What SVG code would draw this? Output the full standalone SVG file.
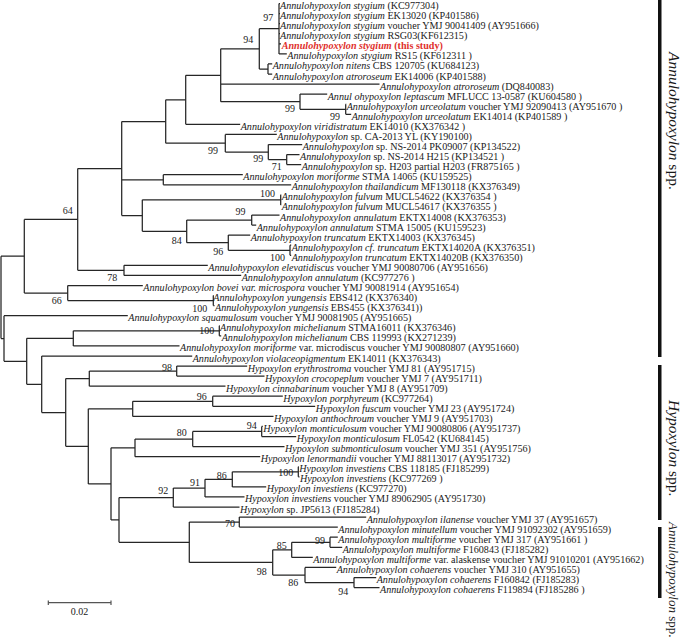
<svg xmlns="http://www.w3.org/2000/svg" width="685" height="638" viewBox="0 0 685 638">
<style>
text{font-family:"Liberation Serif","Times New Roman",serif;fill:#1a1a1a}
.lf{font-size:10.15px}
.i{font-style:italic}
.bs{font-size:10px}
.red{fill:#e0302c;font-weight:bold}
.br{fill:none;stroke:#262626;stroke-width:1.25}
.grp{font-size:15.5px}
</style>
<rect width="685" height="638" fill="#ffffff"/>
<g id="connectors" class="br">
<path d="M1,256.2V338.5M1,256.2H24.3M1,338.5H4"/>
<path d="M24.3,219.45V293M24.3,219.45H77.7M24.3,293H67.7"/>
<path d="M77.7,168.55V270.35M77.7,168.55H121.7M77.7,270.35H124"/>
<path d="M121.7,121.5V215.6M121.7,121.5H165.7M121.7,179.75H163.3M121.7,215.6H142.3"/>
<path d="M165.7,99.8V143.2M165.7,99.8H185.7M165.7,143.2H225.3"/>
<path d="M185.7,75.3V124.3M185.7,75.3H220.7M185.7,124.3H240.2"/>
<path d="M220.7,48.85V101.7M220.7,48.85H259.3M220.7,101.7H300M220.7,84.1H379.5"/>
<path d="M259.3,28.7V69M259.3,28.7H279M259.3,69H268"/>
<path d="M279,3.5V53.9M279,3.5H280M279,13.6H280M279,23.6H280M279,33.7H280M279,43.8H281M279,53.9H286.8"/>
<path d="M268,63.9V74M268,63.9H272.2M268,74H272.2"/>
<path d="M300,94.1V109.25M300,94.1H327.2M300,109.25H345.7"/>
<path d="M345.7,104.2V114.3M345.7,104.2H346.2M345.7,114.3H351.2"/>
<path d="M225.3,134.4V152.05M225.3,134.4H276.8M225.3,152.05H268.3"/>
<path d="M268.3,144.5V159.6M268.3,144.5H302.2M268.3,159.6H286.7"/>
<path d="M286.7,154.6V164.6M286.7,154.6H299.5M286.7,164.6H301.2"/>
<path d="M163.3,174.7V184.8M163.3,174.7H242.8M163.3,184.8H291.2"/>
<path d="M142.3,199.85V231.35M142.3,199.85H280.7M142.3,231.35H186.7"/>
<path d="M280.7,194.8V204.9M280.7,194.8H281.2M280.7,204.9H281.2"/>
<path d="M186.7,220V242.7M186.7,220H251.7M186.7,242.7H228.3"/>
<path d="M251.7,215V225M251.7,215H279.5M251.7,225H256.2"/>
<path d="M228.3,235.1V250.25M228.3,235.1H250.2M228.3,250.25H290"/>
<path d="M290,245.2V255.3M290,245.2H291.2M290,255.3H291.2"/>
<path d="M124,265.3V275.4M124,265.3H207.8M124,275.4H241.2"/>
<path d="M67.7,285.5V300.55M67.7,285.5H142.8M67.7,300.55H213.3"/>
<path d="M213.3,295.5V305.6M213.3,295.5H213.8M213.3,305.6H214.5"/>
<path d="M4,315.7V361.3M4,315.7H127.8M4,361.3H26.7"/>
<path d="M26.7,338.3V384.25M26.7,338.3H73.3M26.7,384.25H41.7"/>
<path d="M73.3,330.75V345.9M73.3,330.75H219.3M73.3,345.9H179.5"/>
<path d="M219.3,325.7V335.8M219.3,325.7H219.8M219.3,335.8H221.2"/>
<path d="M41.7,356V412.5M41.7,356H192.2M41.7,412.5H65.7"/>
<path d="M65.7,378.6V446.35M65.7,378.6H89.3M65.7,446.35H88.3"/>
<path d="M89.3,371.05V386.2M89.3,371.05H176.7M89.3,386.2H225.5"/>
<path d="M176.7,366V376.1M176.7,366H247.2M176.7,376.1H264.5"/>
<path d="M88.3,408.8V483.9M88.3,408.8H132.7M88.3,483.9H111"/>
<path d="M132.7,401.25V416.4M132.7,401.25H212.7M132.7,416.4H273.5"/>
<path d="M212.7,396.2V406.3M212.7,396.2H282.8M212.7,406.3H315.2"/>
<path d="M111,447.85V519.9M111,447.85H135M111,519.9H119"/>
<path d="M135,439V456.7M135,439H192.7M135,456.7H260.2"/>
<path d="M192.7,431.45V446.6M192.7,431.45H261.7M192.7,446.6H284.5"/>
<path d="M261.7,426.4V436.5M261.7,426.4H262.8M261.7,436.5H296.2"/>
<path d="M119,497.55V542.25M119,497.55H173.3M119,542.25H189.3"/>
<path d="M173.3,488.1V507M173.3,488.1H205M173.3,507H239.5"/>
<path d="M205,479.3V496.9M205,479.3H232.3M205,496.9H244.5"/>
<path d="M232.3,471.75V486.9M232.3,471.75H298.3M232.3,486.9H266.2"/>
<path d="M298.3,466.7V476.8M298.3,466.7H298.8M298.3,476.8H299.5"/>
<path d="M189.3,522.1V562.4M189.3,522.1H239.3M189.3,562.4H272.7"/>
<path d="M239.3,517.1V527.1M239.3,517.1H366.2M239.3,527.1H337.8"/>
<path d="M272.7,549.8V575M272.7,549.8H291.7M272.7,575H305"/>
<path d="M291.7,542.25V557.4M291.7,542.25H330M291.7,557.4H312.8"/>
<path d="M330,537.2V547.3M330,537.2H337.8M330,547.3H342.2"/>
<path d="M305,567.4V582.55M305,567.4H336.2M305,582.55H354"/>
<path d="M354,577.5V587.6M354,577.5H376.2M354,587.6H379.5"/>
</g>
<g id="support" class="bs">
<text x="263.3" y="20.5">97</text>
<text x="243.3" y="42.5">94</text>
<text x="285" y="111.8">99</text>
<text x="330" y="120.2">99</text>
<text x="208" y="153.5">99</text>
<text x="253.3" y="161.8">99</text>
<text x="271.7" y="169.5">71</text>
<text x="260" y="196.8">100</text>
<text x="235.5" y="215">99</text>
<text x="171.7" y="243.5">84</text>
<text x="213.3" y="254.5">96</text>
<text x="270" y="260.8">100</text>
<text x="62.7" y="214">64</text>
<text x="107.3" y="280.8">78</text>
<text x="51.7" y="304">66</text>
<text x="192.3" y="311.8">100</text>
<text x="199.3" y="333.5">100</text>
<text x="162" y="370.8">98</text>
<text x="196.7" y="400">96</text>
<text x="246.7" y="428.5">94</text>
<text x="176.7" y="435.8">80</text>
<text x="216.7" y="478.5">86</text>
<text x="278.3" y="476.2">100</text>
<text x="190" y="485.8">91</text>
<text x="158.3" y="493.5">92</text>
<text x="225" y="526.8">70</text>
<text x="276.7" y="549.2">85</text>
<text x="315" y="543.5">99</text>
<text x="256.7" y="575.2">98</text>
<text x="288.3" y="585.8">86</text>
<text x="338.3" y="595.2">94</text>
</g>
<g class="lf">
<g id="n0"><text x="280" y="9"><tspan class="i">Annulohypoxylon stygium</tspan> (KC977304)</text></g>
<g id="n1"><text x="280" y="19.1"><tspan class="i">Annulohypoxylon stygium</tspan> EK13020 (KP401586)</text></g>
<g id="n2"><text x="280" y="29.1"><tspan class="i">Annulohypoxylon stygium</tspan> voucher YMJ 90041409 (AY951666)</text></g>
<g id="n3"><text x="280" y="39.2"><tspan class="i">Annulohypoxylon stygium</tspan> RSG03(KF612315)</text></g>
<g id="n4"><text x="281.7" y="49.3" class="red"><tspan class="i">Annulohypoxylon stygium</tspan> (this study)</text></g>
<g id="n5"><text x="287.3" y="59.4"><tspan class="i">Annulohypoxylon stygium</tspan> RS15 (KF612311 )</text></g>
<g id="n6"><text x="272.7" y="69.4"><tspan class="i">Annulohypoxylon nitens</tspan> CBS 120705 (KU684123)</text></g>
<g id="n7"><text x="272.7" y="79.5"><tspan class="i">Annulohypoxylon atroroseum</tspan> EK14006  (KP401588)</text></g>
<g id="n8"><text x="380" y="89.6"><tspan class="i">Annulohypoxylon atroroseum</tspan>  (DQ840083)</text></g>
<g id="n9"><text x="327.7" y="99.6"><tspan class="i">Annul ohypoxylon leptascum</tspan> MFLUCC 13-0587 (KU604580 )</text></g>
<g id="n10"><text x="346.7" y="109.7"><tspan class="i">Annulohypoxylon urceolatum</tspan> voucher YMJ 92090413 (AY951670 )</text></g>
<g id="n11"><text x="351.7" y="119.8"><tspan class="i">Annulohypoxylon urceolatum</tspan> EK14014 (KP401589 )</text></g>
<g id="n12"><text x="240.7" y="129.8"><tspan class="i">Annulohypoxylon viridistratum</tspan> EK14010 (KX376342 )</text></g>
<g id="n13"><text x="277.3" y="139.9"><tspan class="i">Annulohypoxylon</tspan> sp. CA-2013 YL (KY190100)</text></g>
<g id="n14"><text x="302.7" y="150"><tspan class="i">Annulohypoxylon</tspan> sp. NS-2014 PK09007 (KP134522)</text></g>
<g id="n15"><text x="300" y="160.1"><tspan class="i">Annulohypoxylon</tspan> sp. NS-2014 H215 (KP134521 )</text></g>
<g id="n16"><text x="301.7" y="170.1"><tspan class="i">Annulohypoxylon</tspan> sp. H203 partial H203 (FR875165 )</text></g>
<g id="n17"><text x="243.3" y="180.2"><tspan class="i">Annulohypoxylon moriforme</tspan> STMA 14065 (KU159525)</text></g>
<g id="n18"><text x="291.7" y="190.3"><tspan class="i">Annulohypoxylon thailandicum</tspan> MF130118 (KX376349)</text></g>
<g id="n19"><text x="281.7" y="200.3"><tspan class="i">Annulohypoxylon fulvum</tspan> MUCL54622 (KX376354 )</text></g>
<g id="n20"><text x="281.7" y="210.4"><tspan class="i">Annulohypoxylon fulvum</tspan> MUCL54617 (KX376355 )</text></g>
<g id="n21"><text x="280" y="220.5"><tspan class="i">Annulohypoxylon annulatum</tspan> EKTX14008 (KX376353)</text></g>
<g id="n22"><text x="256.7" y="230.5"><tspan class="i">Annulohypoxylon annulatum</tspan> STMA 15005 (KU159523)</text></g>
<g id="n23"><text x="250.7" y="240.6"><tspan class="i">Annulohypoxylon truncatum</tspan> EKTX14003 (KX376345)</text></g>
<g id="n24"><text x="291.7" y="250.7"><tspan class="i">Annulohypoxylon cf. truncatum</tspan> EKTX14020A (KX376351)</text></g>
<g id="n25"><text x="291.7" y="260.8"><tspan class="i">Annulohypoxylon truncatum</tspan> EKTX14020B (KX376350)</text></g>
<g id="n26"><text x="208.3" y="270.8"><tspan class="i">Annulohypoxylon elevatidiscus</tspan> voucher YMJ 90080706 (AY951656)</text></g>
<g id="n27"><text x="241.7" y="280.9"><tspan class="i">Annulohypoxylon annulatum</tspan> (KC977276 )</text></g>
<g id="n28"><text x="143.3" y="291"><tspan class="i">Annulohypoxylon bovei var. microspora</tspan> voucher YMJ 90081914 (AY951654)</text></g>
<g id="n29"><text x="213.3" y="301"><tspan class="i">Annulohypoxylon yungensis</tspan> EBS412 (KX376340)</text></g>
<g id="n30"><text x="215" y="311.1"><tspan class="i">Annulohypoxylon yungensis</tspan> EBS455 (KX376341))</text></g>
<g id="n31"><text x="128.3" y="321.2"><tspan class="i">Annulohypoxylon squamulosum</tspan> voucher YMJ 90081905 (AY951665)</text></g>
<g id="n32"><text x="220" y="331.2"><tspan class="i">Annulohypoxylon michelianum</tspan> STMA16011 (KX376346)</text></g>
<g id="n33"><text x="221.7" y="341.3"><tspan class="i">Annulohypoxylon michelianum</tspan> CBS 119993 (KX271239)</text></g>
<g id="n34"><text x="180" y="351.4"><tspan class="i">Annulohypoxylon moriforme</tspan> var. microdiscus voucher YMJ 90080807 (AY951660)</text></g>
<g id="n35"><text x="192.7" y="361.5"><tspan class="i">Annulohypoxylon violaceopigmentum</tspan> EK14011 (KX376343)</text></g>
<g id="n36"><text x="247.7" y="371.5"><tspan class="i">Hypoxylon erythrostroma</tspan> voucher YMJ 81 (AY951715)</text></g>
<g id="n37"><text x="265" y="381.6"><tspan class="i">Hypoxylon crocopeplum</tspan> voucher YMJ 7 (AY951711)</text></g>
<g id="n38"><text x="226" y="391.7"><tspan class="i">Hypoxylon cinnabarinum</tspan> voucher YMJ 8 (AY951709)</text></g>
<g id="n39"><text x="283.3" y="401.7"><tspan class="i">Hypoxylon porphyreum</tspan> (KC977264)</text></g>
<g id="n40"><text x="315.7" y="411.8"><tspan class="i">Hypoxylon fuscum</tspan> voucher YMJ 23 (AY951724)</text></g>
<g id="n41"><text x="274" y="421.9"><tspan class="i">Hypoxylon anthochroum</tspan> voucher YMJ 9 (AY951703)</text></g>
<g id="n42"><text x="263.3" y="431.9"><tspan class="i">Hypoxylon monticulosum</tspan> voucher YMJ 90080806 (AY951737)</text></g>
<g id="n43"><text x="296.7" y="442"><tspan class="i">Hypoxylon monticulosum</tspan> FL0542 (KU684145)</text></g>
<g id="n44"><text x="285" y="452.1"><tspan class="i">Hypoxylon submonticulosum</tspan> voucher YMJ 351 (AY951756)</text></g>
<g id="n45"><text x="260.7" y="462.2"><tspan class="i">Hypoxylon lenormandii</tspan> voucher YMJ 88113017 (AY951732)</text></g>
<g id="n46"><text x="299.3" y="472.2"><tspan class="i">Hypoxylon investiens</tspan> CBS 118185 (FJ185299)</text></g>
<g id="n47"><text x="300" y="482.3"><tspan class="i">Hypoxylon investiens</tspan> (KC977269 )</text></g>
<g id="n48"><text x="266.7" y="492.4"><tspan class="i">Hypoxylon investiens</tspan> (KC977270)</text></g>
<g id="n49"><text x="245" y="502.4"><tspan class="i">Hypoxylon investiens</tspan> voucher YMJ 89062905 (AY951730)</text></g>
<g id="n50"><text x="240" y="512.5"><tspan class="i">Hypoxylon</tspan> sp. JP5613 (FJ185284)</text></g>
<g id="n51"><text x="366.7" y="522.6"><tspan class="i">Annulohypoxylon ilanense</tspan> voucher YMJ 37 (AY951657)</text></g>
<g id="n52"><text x="338.3" y="532.6"><tspan class="i">Annulohypoxylon minutellum</tspan> voucher YMJ 91092302 (AY951659)</text></g>
<g id="n53"><text x="338.3" y="542.7"><tspan class="i">Annulohypoxylon multiforme</tspan> voucher YMJ 317 (AY951661 )</text></g>
<g id="n54"><text x="342.7" y="552.8"><tspan class="i">Annulohypoxylon multiforme</tspan> F160843 (FJ185282)</text></g>
<g id="n55"><text x="313.3" y="562.9"><tspan class="i">Annulohypoxylon multiforme</tspan> var. alaskense voucher YMJ 91010201 (AY951662)</text></g>
<g id="n56"><text x="336.7" y="572.9"><tspan class="i">Annulohypoxylon cohaerens</tspan> voucher YMJ 310 (AY951655)</text></g>
<g id="n57"><text x="376.7" y="583"><tspan class="i">Annulohypoxylon cohaerens</tspan> F160842 (FJ185283)</text></g>
<g id="n58"><text x="380" y="593.1"><tspan class="i">Annulohypoxylon cohaerens</tspan> F119894 (FJ185286 )</text></g>
</g>
<g id="groups">
<rect x="658" y="0" width="3.5" height="357" fill="#111"/>
<rect x="658" y="365" width="3.5" height="155" fill="#111"/>
<rect x="658" y="527" width="3.5" height="71" fill="#111"/>
<text class="grp" transform="translate(669,52) rotate(90)"><tspan class="i">Annulohypoxylon</tspan> spp.</text>
<text class="grp" transform="translate(669,400) rotate(90)"><tspan class="i">Hypoxylon</tspan> spp.</text>
<text class="grp" style="font-size:13px" transform="translate(669,522) rotate(90)"><tspan class="i">Annulohypoxylon</tspan> spp.</text>
</g>
<g id="scale">
<path d="M48.3,602.7H111M48.3,600.5V605M111,600.5V605" fill="none" stroke="#555" stroke-width="1.2"/>
<text x="79.5" y="615" class="bs" text-anchor="middle">0.02</text>
</g>
</svg>
